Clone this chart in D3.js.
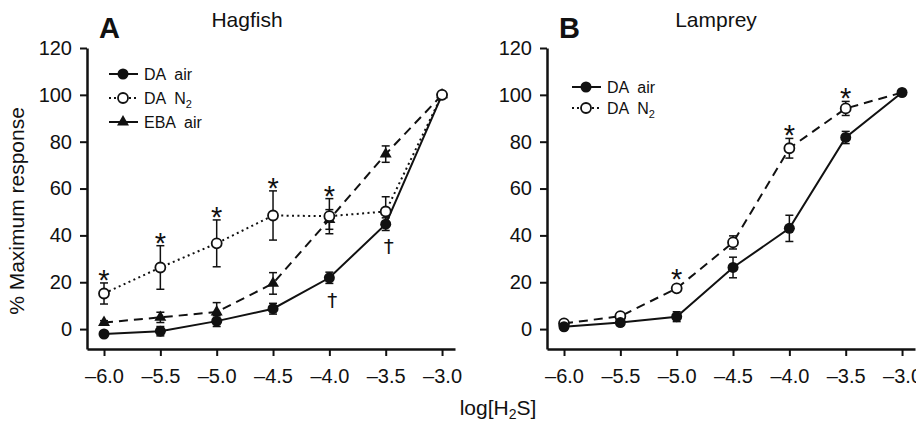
<!DOCTYPE html>
<html>
<head>
<meta charset="utf-8">
<script src="https://cdn.jsdelivr.net/npm/d3@7"></script>
<style>
  body { margin: 0; background: #fff; }
  svg text { font-family: "Liberation Sans", Arial, Helvetica, sans-serif; fill: #111; white-space: pre; }
</style>
</head>
<body>
<svg id="chart" width="916" height="424"></svg>
<script>
// log[H2S] concentrations
var xVals = [-6.0, -5.5, -5.0, -4.5, -4.0, -3.5, -3.0];
var xTickLabels = ["\u20136.0", "\u20135.5", "\u20135.0", "\u20134.5", "\u20134.0", "\u20133.5", "\u20133.0"];
var yTicks = [0, 20, 40, 60, 80, 100, 120];

// Hagfish
var hagDaAir = [-2.1, -0.9, 3.4, 8.7, 21.9, 44.8, 100];
var hagDaAirErr = [1.2, 2.0, 2.3, 2.3, 2.4, 2.7, 0];
var hagDaN2 = [15.2, 26.3, 36.6, 48.5, 48.2, 50.2, 100];
var hagDaN2Err = [4.5, 9.3, 10.0, 10.5, 7.5, 6.3, 0];
var hagEbaAir = [2.8, 5.0, 7.3, 19.5, 46.8, 74.7, 100];
var hagEbaAirErr = [0.8, 2.2, 4.0, 4.6, 4.2, 3.5, 0];
var hagStars = [true, true, true, true, true, false, false];   // over DA N2
var hagDaggers = [false, false, false, false, true, true, false]; // under DA air

// Lamprey
var lamDaAir = [1.0, 2.8, 5.3, 26.3, 43.0, 81.8, 101];
var lamDaAirErr = [0.8, 1.0, 2.1, 4.4, 5.6, 2.6, 0];
var lamDaN2 = [2.4, 5.5, 17.4, 37.0, 77.2, 94.2, 101];
var lamDaN2Err = [0.8, 1.0, 1.2, 2.8, 4.2, 3.0, 0];
var lamStars = [false, false, true, false, true, true, false];

var svg = d3.select("#chart");
var y = d3.scaleLinear().domain([-8.5, 120]).range([349, 48]);

function drawPanel(cfg) {
  var x = d3.scaleLinear().domain([-6.151, -2.885]).range(cfg.range);
  var g = svg.append("g");

  var xAxis = g.append("g")
    .attr("transform", "translate(0,349)")
    .call(d3.axisBottom(x).tickValues(xVals).tickSize(7).tickSizeOuter(0).tickPadding(13)
      .tickFormat(function(d, i) { return xTickLabels[i]; }));
  var yAxis = g.append("g")
    .attr("transform", "translate(" + cfg.range[0] + ",0)")
    .call(d3.axisLeft(y).tickValues(yTicks).tickSize(7).tickSizeOuter(0).tickPadding(8));

  [xAxis, yAxis].forEach(function(a) {
    a.select(".domain").attr("stroke", "#111").attr("stroke-width", 2.5);
    a.selectAll(".tick line").attr("stroke", "#111").attr("stroke-width", 2);
    a.selectAll(".tick text").attr("font-size", 20).attr("fill", "#111")
      .style("font-family", "'Liberation Sans', Arial, sans-serif");
  });

  // panel letter and title
  g.append("text").attr("x", cfg.letterX).attr("y", 38)
    .attr("font-size", 29).attr("font-weight", "bold").text(cfg.letter);
  g.append("text").attr("x", cfg.titleX).attr("y", 27)
    .attr("font-size", 21).attr("text-anchor", "middle").text(cfg.title);

  cfg.series.forEach(function(s) {
    // error bars
    var eb = g.append("g").attr("stroke", "#111").attr("stroke-width", 1.5);
    s.values.forEach(function(v, i) {
      var e = s.err[i];
      if (!e) return;
      var cx = x(xVals[i]);
      eb.append("line").attr("x1", cx).attr("x2", cx).attr("y1", y(v - e)).attr("y2", y(v + e));
      eb.append("line").attr("x1", cx - 4).attr("x2", cx + 4).attr("y1", y(v + e)).attr("y2", y(v + e));
      eb.append("line").attr("x1", cx - 4).attr("x2", cx + 4).attr("y1", y(v - e)).attr("y2", y(v - e));
    });
  });

  cfg.series.forEach(function(s) {
    var line = d3.line().x(function(d, i) { return x(xVals[i]); }).y(function(d) { return y(d); });
    g.append("path").datum(s.values)
      .attr("d", line).attr("fill", "none").attr("stroke", "#111").attr("stroke-width", 2)
      .attr("stroke-dasharray", s.dash);
  });

  cfg.series.forEach(function(s) {
    s.values.forEach(function(v, i) {
      if (s.skipLast && i === s.values.length - 1) return;
      drawMarker(g, s.marker, x(xVals[i]), y(v));
    });
  });

  // significance stars
  cfg.starSeries.values.forEach(function(v, i) {
    if (!cfg.stars[i]) return;
    var top = y(v + cfg.starSeries.err[i]);
    var gap = cfg.starSeries.err[i] > 1.5 ? 8 : 12;
    g.append("text").attr("x", x(xVals[i])).attr("y", top - gap + 15)
      .attr("font-size", 29).attr("text-anchor", "middle").text("*");
  });

  // daggers
  if (cfg.daggers) {
    cfg.daggerSeries.forEach(function(v, i) {
      if (!cfg.daggers[i]) return;
      g.append("text").attr("x", x(xVals[i]) + 3).attr("y", y(v) + 29)
        .attr("font-size", 20).attr("text-anchor", "middle")
        .style("font-family", "'DejaVu Sans', sans-serif").style("fill", "#111")
        .text("\u2020");
    });
  }

  // legend
  cfg.legend.forEach(function(l, i) {
    var ly = cfg.legendY[i];
    var lx = cfg.legendX;
    g.append("line").attr("x1", lx - 14).attr("x2", lx + 15).attr("y1", ly).attr("y2", ly)
      .attr("stroke", "#111").attr("stroke-width", 2).attr("stroke-dasharray", l.dash);
    drawMarker(g, l.marker, lx, ly);
    var t = g.append("text").attr("x", lx + 21).attr("y", ly + 6).attr("font-size", 16);
    t.append("tspan").text(l.label);
    if (l.sub) t.append("tspan").attr("font-size", 11).attr("dy", 4).text(l.sub);
  });
}

function drawMarker(g, type, cx, cy) {
  if (type === "filled") {
    g.append("circle").attr("cx", cx).attr("cy", cy).attr("r", 5.5).attr("fill", "#111");
  } else if (type === "open") {
    g.append("circle").attr("cx", cx).attr("cy", cy).attr("r", 5)
      .attr("fill", "#fff").attr("stroke", "#111").attr("stroke-width", 1.8);
  } else {
    g.append("path").attr("d", d3.symbol().type(d3.symbolTriangle).size(62)())
      .attr("transform", "translate(" + cx + "," + cy + ")").attr("fill", "#111");
  }
}

var hagN2 = { values: hagDaN2, err: hagDaN2Err, dash: "2,3.4", marker: "open" };
drawPanel({
  range: [87, 455], letter: "A", letterX: 99, title: "Hagfish", titleX: 247,
  series: [
    { values: hagDaAir, err: hagDaAirErr, dash: null, marker: "filled" },
    { values: hagEbaAir, err: hagEbaAirErr, dash: "9,6", marker: "triangle" },
    hagN2
  ],
  starSeries: hagN2, stars: hagStars,
  daggerSeries: hagDaAir, daggers: hagDaggers,
  legendX: 123, legendY: [74, 98, 122],
  legend: [
    { label: "DA  air", marker: "filled", dash: null },
    { label: "DA  N", sub: "2", marker: "open", dash: "2,3" },
    { label: "EBA  air", marker: "triangle", dash: null }
  ]
});

var lamN2 = { values: lamDaN2, err: lamDaN2Err, dash: "9,6", marker: "open", skipLast: true };
drawPanel({
  range: [547, 915], letter: "B", letterX: 559, title: "Lamprey", titleX: 716,
  series: [
    lamN2,
    { values: lamDaAir, err: lamDaAirErr, dash: null, marker: "filled" }
  ],
  starSeries: lamN2, stars: lamStars,
  legendX: 586, legendY: [87, 108],
  legend: [
    { label: "DA  air", marker: "filled", dash: null },
    { label: "DA  N", sub: "2", marker: "open", dash: "2,3" }
  ]
});

// shared axis titles
svg.append("text")
  .attr("transform", "translate(24,211) rotate(-90)")
  .attr("text-anchor", "middle").attr("font-size", 21)
  .text("% Maximum response");

var xt = svg.append("text").attr("x", 498).attr("y", 415)
  .attr("text-anchor", "middle").attr("font-size", 21);
xt.append("tspan").text("log[H");
xt.append("tspan").attr("font-size", 14).attr("dy", 4).text("2");
xt.append("tspan").attr("dy", -4).text("S]");
</script>
</body>
</html>
